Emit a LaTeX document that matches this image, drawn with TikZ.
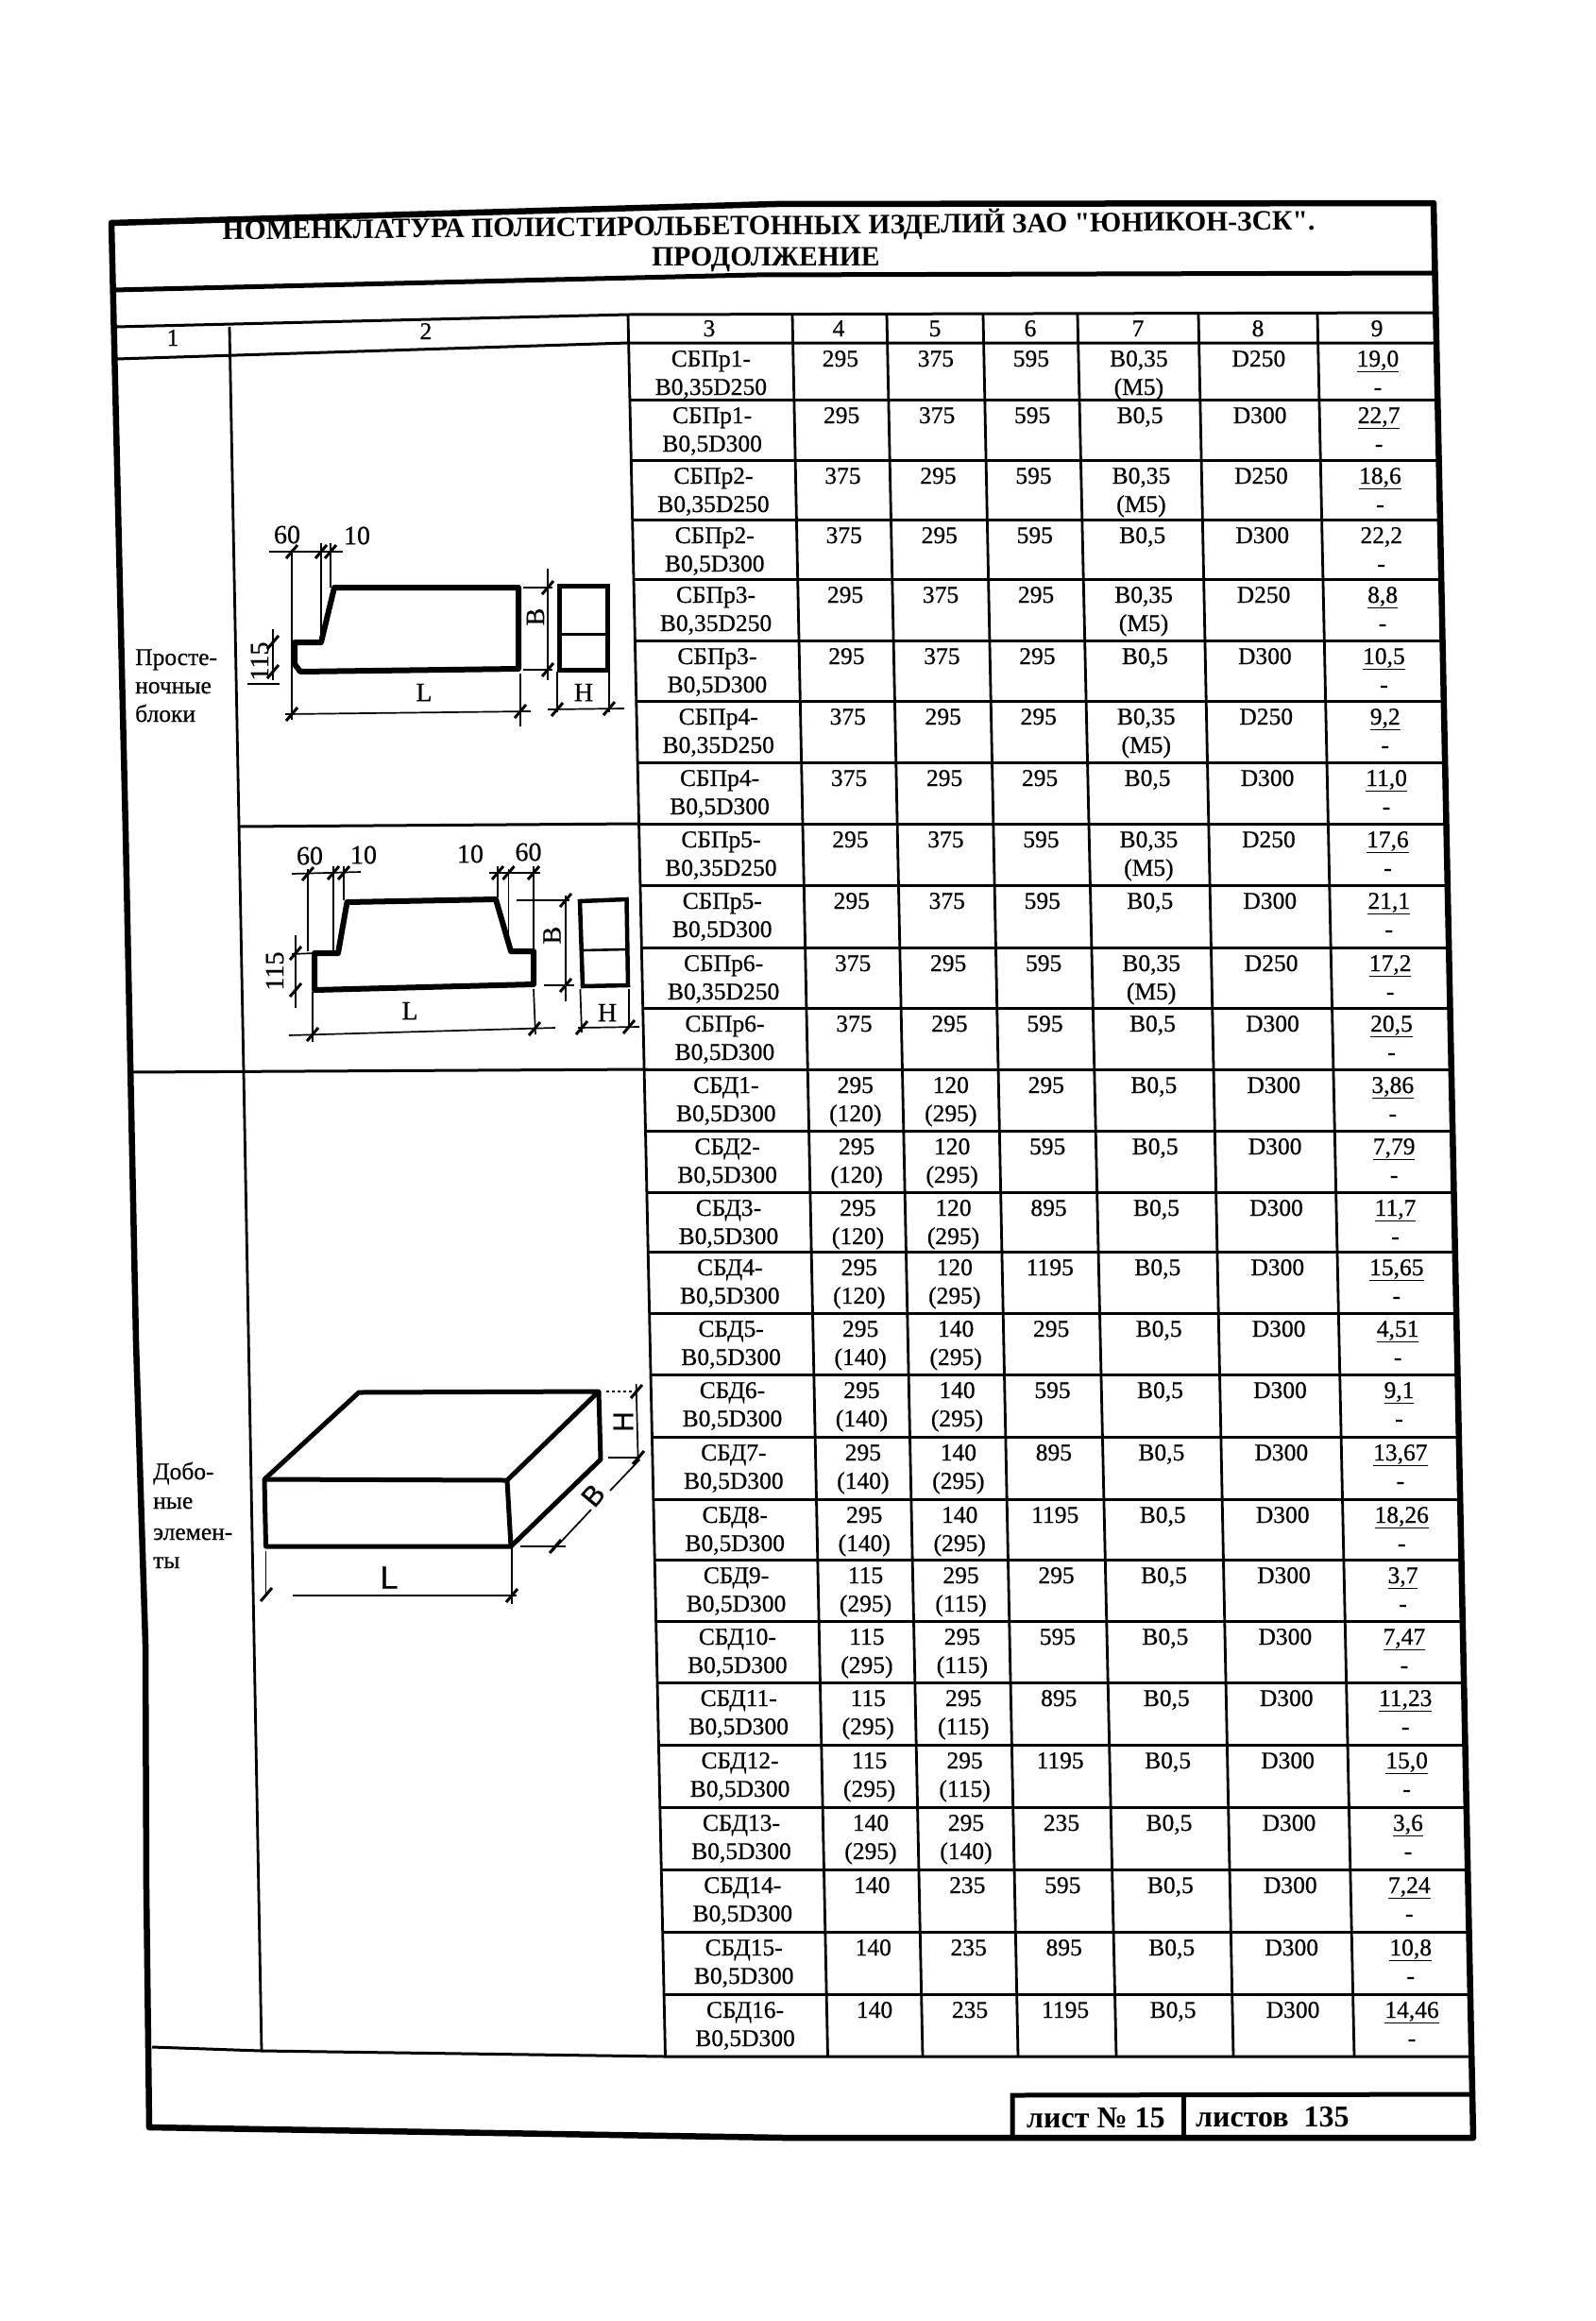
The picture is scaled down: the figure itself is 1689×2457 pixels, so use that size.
\documentclass[tikz,border=0pt]{standalone}
\usepackage{fontspec}
\setmainfont{Liberation Serif}
\newfontfamily\scanf[FakeBold=0.55]{Liberation Serif}
\newfontfamily\scandim[FakeBold=0.7]{Liberation Sans}
\newfontfamily\tff[Ligatures=TeXOff]{Liberation Serif}
\tikzset{
  frameline/.style={line width=6.5pt,line join=round,line cap=round},
  rule/.style={line width=3pt},
  thinrule/.style={line width=2.8pt},
  prof/.style={line width=6pt,line join=round},
  dimline/.style={line width=1.7pt},
  ticku/.style={line width=3pt},
  cellf/.style={font=\scanf\fontsize{25.5}{30}\selectfont,inner sep=0pt,anchor=base},
  sidef/.style={font=\scanf\fontsize{25.5}{30}\selectfont,inner sep=0pt,anchor=base west},
  dimf/.style={font=\scanf\fontsize{28}{30}\selectfont,inner sep=0pt},
  titlef/.style={font=\tff\bfseries\fontsize{29.6}{36}\selectfont,inner sep=0pt},
  footf/.style={font=\bfseries\fontsize{32}{36}\selectfont,inner sep=0pt,anchor=base west}
}
\newcommand\tk[2]{\draw[ticku] (#1-6,#2+7) -- (#1+6,#2-7);}
\newcommand\celltxt[4]{%
  \pgfmathsetmacro\cx{#1+0.020686*(\yt-320)}%
  \node[cellf] (c\yt-#3) at (\cx,\yt+#2) {#4};}
\def\nn{n}
\begin{document}
\begin{tikzpicture}[x=1pt,y=-1pt]
\useasboundingbox (0,0) rectangle (1689,2457);
\fill[white] (0,0) rectangle (1689,2457);
% outer frame
\draw[frameline] (118,236) -- (820,216) -- (1518,215) -- (1560,2263) -- (830,2263) -- (158,2252) -- (155,2000) -- (154,1740) -- (144,1420) -- (133,880) -- cycle;
\draw[line width=5pt] (120,307) -- (800,291) -- (1520,289);
\draw[rule] (122,346) -- (665,333) -- (1521,331);
\draw[rule] (123,380) -- (665,363) -- (1521,363);
\draw[rule] (161,2167) -- (277,2171) -- (704,2177) -- (1558,2177);
% title
\node[titlef,rotate=0.5] (title1) at (814,239) {НОМЕНКЛАТУРА ПОЛИСТИРОЛЬБЕТОННЫХ ИЗДЕЛИЙ ЗАО "ЮНИКОН-ЗСК".};
\node[titlef] (title2) at (811,275) {ПРОДОЛЖЕНИЕ};
% vertical rules
\draw[thinrule] (243,346) -- (258,1135) -- (277,2171);
\foreach \i/\t/\b in {3/665/704.5,4/839/876.5,5/939/977,6/1041/1078,7/1141/1182,8/1269/1306,9/1395/1434}{
  \draw[thinrule] (\t,333) -- (\b,2177);
}
% horizontal rules, table rows
\foreach \y in {423,487,550,613,678,742,807,872,937,1003,1067,1132,1197,1262,1325,1390,1455,1521,1587,1651,1716,1781,1847,1913,1979,2045,2111}{
  \pgfmathsetmacro\xa{665+0.02123*(\y-340)}
  \pgfmathsetmacro\xb{1521+0.02014*(\y-340)}
  \draw[rule] (\xa,\y) -- (\xb,\y);
}
\draw[rule] (253,875) -- (676,872);
\draw[rule] (137,1135) -- (686,1132);
% header numbers
\node[cellf] (h1) at (183,366) {1};
\node[cellf] (h2) at (451,359) {2};
\node[cellf] (h3) at (751,356) {3};
\node[cellf] (h4) at (888,356) {4};
\node[cellf] (h5) at (990,356) {5};
\node[cellf] (h6) at (1091,356) {6};
\node[cellf] (h7) at (1205,356) {7};
\node[cellf] (h8) at (1332,356) {8};
\node[cellf] (h9) at (1458,356) {9};
% table cells
\foreach \yt/\na/\nb/\wa/\wb/\ta/\tb/\ll/\ca/\cb/\dd/\mm/\me in {
363/СБПр1-/{В0,35D250}/295/n/375/n/595/{В0,35}/{(М5)}/D250/{\underline{19,0}}/-,
423/СБПр1-/{В0,5D300}/295/n/375/n/595/{В0,5}/n/D300/{\underline{22,7}}/-,
487/СБПр2-/{В0,35D250}/375/n/295/n/595/{В0,35}/{(М5)}/D250/{\underline{18,6}}/-,
550/СБПр2-/{В0,5D300}/375/n/295/n/595/{В0,5}/n/D300/{22,2}/-,
613/СБПр3-/{В0,35D250}/295/n/375/n/295/{В0,35}/{(М5)}/D250/{\underline{8,8}}/-,
678/СБПр3-/{В0,5D300}/295/n/375/n/295/{В0,5}/n/D300/{\underline{10,5}}/-,
742/СБПр4-/{В0,35D250}/375/n/295/n/295/{В0,35}/{(М5)}/D250/{\underline{9,2}}/-,
807/СБПр4-/{В0,5D300}/375/n/295/n/295/{В0,5}/n/D300/{\underline{11,0}}/-,
872/СБПр5-/{В0,35D250}/295/n/375/n/595/{В0,35}/{(М5)}/D250/{\underline{17,6}}/-,
937/СБПр5-/{В0,5D300}/295/n/375/n/595/{В0,5}/n/D300/{\underline{21,1}}/-,
1003/СБПр6-/{В0,35D250}/375/n/295/n/595/{В0,35}/{(М5)}/D250/{\underline{17,2}}/-,
1067/СБПр6-/{В0,5D300}/375/n/295/n/595/{В0,5}/n/D300/{\underline{20,5}}/-,
1132/СБД1-/{В0,5D300}/295/{(120)}/120/{(295)}/295/{В0,5}/n/D300/{\underline{3,86}}/-,
1197/СБД2-/{В0,5D300}/295/{(120)}/120/{(295)}/595/{В0,5}/n/D300/{\underline{7,79}}/-,
1262/СБД3-/{В0,5D300}/295/{(120)}/120/{(295)}/895/{В0,5}/n/D300/{\underline{11,7}}/-,
1325/СБД4-/{В0,5D300}/295/{(120)}/120/{(295)}/1195/{В0,5}/n/D300/{\underline{15,65}}/-,
1390/СБД5-/{В0,5D300}/295/{(140)}/140/{(295)}/295/{В0,5}/n/D300/{\underline{4,51}}/-,
1455/СБД6-/{В0,5D300}/295/{(140)}/140/{(295)}/595/{В0,5}/n/D300/{\underline{9,1}}/-,
1521/СБД7-/{В0,5D300}/295/{(140)}/140/{(295)}/895/{В0,5}/n/D300/{\underline{13,67}}/-,
1587/СБД8-/{В0,5D300}/295/{(140)}/140/{(295)}/1195/{В0,5}/n/D300/{\underline{18,26}}/-,
1651/СБД9-/{В0,5D300}/115/{(295)}/295/{(115)}/295/{В0,5}/n/D300/{\underline{3,7}}/-,
1716/СБД10-/{В0,5D300}/115/{(295)}/295/{(115)}/595/{В0,5}/n/D300/{\underline{7,47}}/-,
1781/СБД11-/{В0,5D300}/115/{(295)}/295/{(115)}/895/{В0,5}/n/D300/{\underline{11,23}}/-,
1847/СБД12-/{В0,5D300}/115/{(295)}/295/{(115)}/1195/{В0,5}/n/D300/{\underline{15,0}}/-,
1913/СБД13-/{В0,5D300}/140/{(295)}/295/{(140)}/235/{В0,5}/n/D300/{\underline{3,6}}/-,
1979/СБД14-/{В0,5D300}/140/n/235/n/595/{В0,5}/n/D300/{\underline{7,24}}/-,
2045/СБД15-/{В0,5D300}/140/n/235/n/895/{В0,5}/n/D300/{\underline{10,8}}/-,
2111/СБД16-/{В0,5D300}/140/n/235/n/1195/{В0,5}/n/D300/{\underline{14,46}}/-}{
  \celltxt{752}{25}{na}{\na}
  \celltxt{752}{55}{nb}{\nb}
  \celltxt{889}{25}{wa}{\wa}
  \ifx\wb\nn\else\celltxt{889}{55}{wb}{\wb}\fi
  \celltxt{990}{25}{ta}{\ta}
  \ifx\tb\nn\else\celltxt{990}{55}{tb}{\tb}\fi
  \celltxt{1091}{25}{ll}{\ll}
  \celltxt{1205}{25}{ca}{\ca}
  \ifx\cb\nn\else\celltxt{1205}{55}{cb}{\cb}\fi
  \celltxt{1332}{25}{dd}{\dd}
  \celltxt{1458}{25}{mm}{\mm}
  \celltxt{1458}{55}{me}{\me}
}
% side labels
\node[sidef] (s1) at (143,704) {Просте-};
\node[sidef] (s2) at (143,734) {ночные};
\node[sidef] (s3) at (143,764) {блоки};
\node[sidef] (s4) at (162,1566) {Добо-};
\node[sidef] (s5) at (162,1597) {ные};
\node[sidef] (s6) at (162,1630) {элемен-};
\node[sidef] (s7) at (162,1660) {ты};
% drawing 1
\draw[prof] (312,680) -- (340,680) -- (354,622) -- (549,622) -- (549,708) -- (318,711) -- (312,703) -- cycle;
\draw[line width=5pt] (592,620) rectangle (643,709);
\draw[line width=3pt] (592,671) -- (643,671);
\draw[dimline] (309,582) -- (309,762);
\draw[dimline] (340,575) -- (340,678);
\draw[dimline] (350,575) -- (350,622);
\draw[dimline] (285,584) -- (363,584);
\tk{309}{584}\tk{340}{584}\tk{350}{584}
\node[dimf] (d1a) at (304,566) {60};
\node[dimf] (d1b) at (378,567) {10};
\draw[dimline] (289,666) -- (289,720);
\draw[dimline] (262,724) -- (296,724);
\tk{289}{680}\tk{289}{711}
\node[dimf,rotate=90] (d1c) at (275,700) {115};
\draw[dimline] (302,756) -- (562,753);
\draw[dimline] (551,713) -- (551,769);
\tk{309}{756}\tk{551}{753}
\node[dimf] (d1d) at (449,733) {L};
\draw[dimline] (580,602) -- (580,720);
\draw[dimline] (554,622) -- (585,622);
\draw[dimline] (554,709) -- (585,709);
\tk{580}{622}\tk{580}{709}
\node[dimf,rotate=90] (d1e) at (567,653) {B};
\draw[dimline] (580,751) -- (661,750);
\draw[dimline] (590,711) -- (590,754);
\draw[dimline] (645,711) -- (645,754);
\tk{590}{751}\tk{645}{750}
\node[dimf] (d1f) at (618,733) {H};
% drawing 2
\draw[prof] (333,1009) -- (358,1009) -- (367.5,955) -- (525,952) -- (541,1007) -- (565,1007) -- (565,1042) -- (333,1048) -- cycle;
\draw[line width=4.5pt] (614,954) -- (663.5,952) -- (665,1043) -- (617,1044) -- cycle;
\draw[line width=2.6pt] (616,1006) -- (664,1005);
\draw[dimline] (326,920) -- (326,1007);
\draw[dimline] (353,917) -- (353,1007);
\draw[dimline] (364,917) -- (364,953);
\draw[dimline] (527,917) -- (527,950);
\draw[dimline] (538.5,920) -- (538.5,1000);
\draw[dimline] (565,917) -- (565,1007);
\draw[dimline] (565,1047) -- (567,1095);
\draw[dimline] (309,925) -- (382,923);
\draw[dimline] (518,924) -- (572,924);
\tk{326}{925}\tk{353}{924}\tk{364}{924}\tk{527}{924}\tk{538.5}{924}\tk{565}{924}
\node[dimf] (d2a) at (328,906) {60};
\node[dimf] (d2b) at (385,905) {10};
\node[dimf] (d2c) at (498,904) {10};
\node[dimf] (d2d) at (559.5,902) {60};
\draw[dimline] (313,990) -- (313,1067);
\draw[dimline] (309,1010) -- (333,1009);
\tk{313}{1009}\tk{313}{1048}
\node[dimf,rotate=90] (d2e) at (291,1028) {115};
\draw[dimline] (306,1096) -- (588,1088);
\draw[dimline] (331,1050) -- (331,1103);
\tk{331}{1095}\tk{566}{1089}
\node[dimf] (d2f) at (434,1070) {L};
\draw[dimline] (599,948) -- (599,1060);
\draw[dimline] (547,953) -- (603,953);
\draw[dimline] (576,1043) -- (608,1043);
\tk{599}{953}\tk{599}{1043}
\node[dimf,rotate=90] (d2g) at (584.5,990) {B};
\draw[dimline] (612,1088) -- (677,1087);
\draw[dimline] (614.4,1047) -- (616,1093);
\draw[dimline] (666,1047) -- (666,1088);
\tk{616}{1088}\tk{666}{1087}
\node[dimf] (d2h) at (643,1072) {H};
% drawing 3
\coordinate (A) at (280,1566);
\coordinate (B) at (537,1567);
\coordinate (C) at (634,1473);
\coordinate (D) at (380,1474);
\coordinate (E) at (281.5,1637);
\coordinate (F) at (541,1637);
\coordinate (G) at (636,1545);
\draw[prof,line width=5pt] (A) -- (B) -- (F) -- (E) -- cycle;
\draw[prof,line width=5pt] (A) -- (D) -- (C) -- (B);
\draw[prof,line width=5pt] (C) -- (G) -- (F);
\draw[dimline] (281.5,1642) -- (281.5,1687);
\draw[dimline] (542,1637) -- (542,1698);
\draw[dimline] (310,1689) -- (547,1689);
\tk{282}{1688}\tk{542}{1689}
\node[dimf,font=\scandim\fontsize{34}{36}\selectfont] (d3a) at (412,1670) {L};
\draw[dimline] (673.6,1465) -- (675.6,1543);
\draw[dimline,dashed] (642,1473) -- (675.6,1473);
\draw[dimline] (644,1543) -- (677.5,1543);
\tk{674}{1473}\tk{676}{1543}
\node[dimf,font=\scandim\fontsize{30}{36}\selectfont,rotate=90] (d3b) at (660,1505) {H};
\draw[dimline] (677.5,1545) -- (646,1578);
\draw[dimline] (626,1598) -- (584.7,1642);
\draw[dimline] (551,1637) -- (598.5,1637);
\tk{588}{1637}
\node[dimf,font=\scandim\fontsize{30}{36}\selectfont,rotate=50] (d3c) at (628,1583) {B};
% footer
\draw[line width=5pt] (1072,2263) -- (1072,2218) -- (1558,2217);
\draw[line width=5pt] (1253,2218) -- (1253,2263);
\node[footf] (f1) at (1087,2252) {лист № 15};
\node[footf] (f2) at (1266,2251) {листов\ \ 135};
\end{tikzpicture}
\end{document}
